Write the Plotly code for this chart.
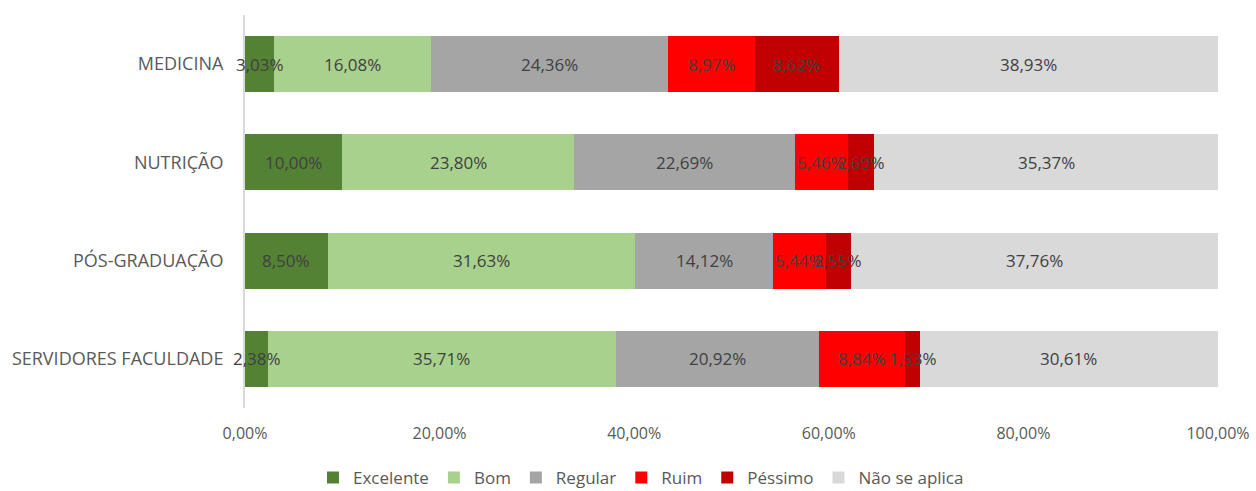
import plotly.graph_objects as go

categories = ["MEDICINA", "NUTRIÇÃO", "PÓS-GRADUAÇÃO", "SERVIDORES FACULDADE"]

excelente = [3.03, 10.00, 8.50, 2.38]
bom = [16.08, 23.80, 31.63, 35.71]
regular = [24.36, 22.69, 14.12, 20.92]
ruim = [8.97, 5.46, 5.44, 8.84]
pessimo = [8.62, 2.69, 2.55, 1.53]
nao_se_aplica = [38.93, 35.37, 37.76, 30.61]

series = [
    ("Excelente", excelente, "#548235"),
    ("Bom", bom, "#A9D18E"),
    ("Regular", regular, "#A5A5A5"),
    ("Ruim", ruim, "#FF0000"),
    ("Péssimo", pessimo, "#C00000"),
    ("Não se aplica", nao_se_aplica, "#D9D9D9"),
]

tick_vals = [0, 20, 40, 60, 80, 100]
tick_text = ["0,00%", "20,00%", "40,00%", "60,00%", "80,00%", "100,00%"]


def pct(v):
    return f"{v:.2f}".replace(".", ",") + "%"


fig = go.Figure()
offsets = [0.0] * len(categories)
for name, vals, color in series:
    fig.add_trace(go.Bar(
        name=name,
        x=vals,
        y=categories,
        orientation="h",
        marker=dict(color=color, line=dict(width=0)),
        hoverinfo="skip",
    ))
    # value labels centred on each segment, allowed to overflow narrow bars
    for i, (cat, v) in enumerate(zip(categories, vals)):
        fig.add_annotation(
            x=offsets[i] + v / 2, y=cat, xref="x", yref="y",
            text=pct(v), showarrow=False,
            font=dict(family="Open Sans", size=17, color="#404040"),
        )
        offsets[i] += v

fig.update_layout(
    barmode="stack",
    bargap=0.43,
    width=1256,
    height=491,
    paper_bgcolor="white",
    plot_bgcolor="white",
    margin=dict(l=245, r=38, t=15, b=83, autoexpand=False),
    font=dict(family="Open Sans", size=16, color="#595959"),
    showlegend=True,
    legend=dict(
        orientation="h",
        x=0.407, xanchor="center",
        y=-0.178, yanchor="middle",
        font=dict(size=17, color="#595959"),
        traceorder="normal",
    ),
)

fig.update_xaxes(
    range=[0, 100],
    tickvals=tick_vals,
    ticktext=tick_text,
    showgrid=False,
    zeroline=False,
    showline=False,
    ticks="",
    ticklabelstandoff=14,
    tickfont=dict(size=16, color="#595959"),
)
fig.update_yaxes(
    autorange="reversed",
    showgrid=False,
    showline=True,
    linecolor="#D9D9D9",
    linewidth=2,
    ticks="",
    ticklabelstandoff=16,
    tickfont=dict(size=18, color="#595959"),
)

fig.write_html("out.html")
